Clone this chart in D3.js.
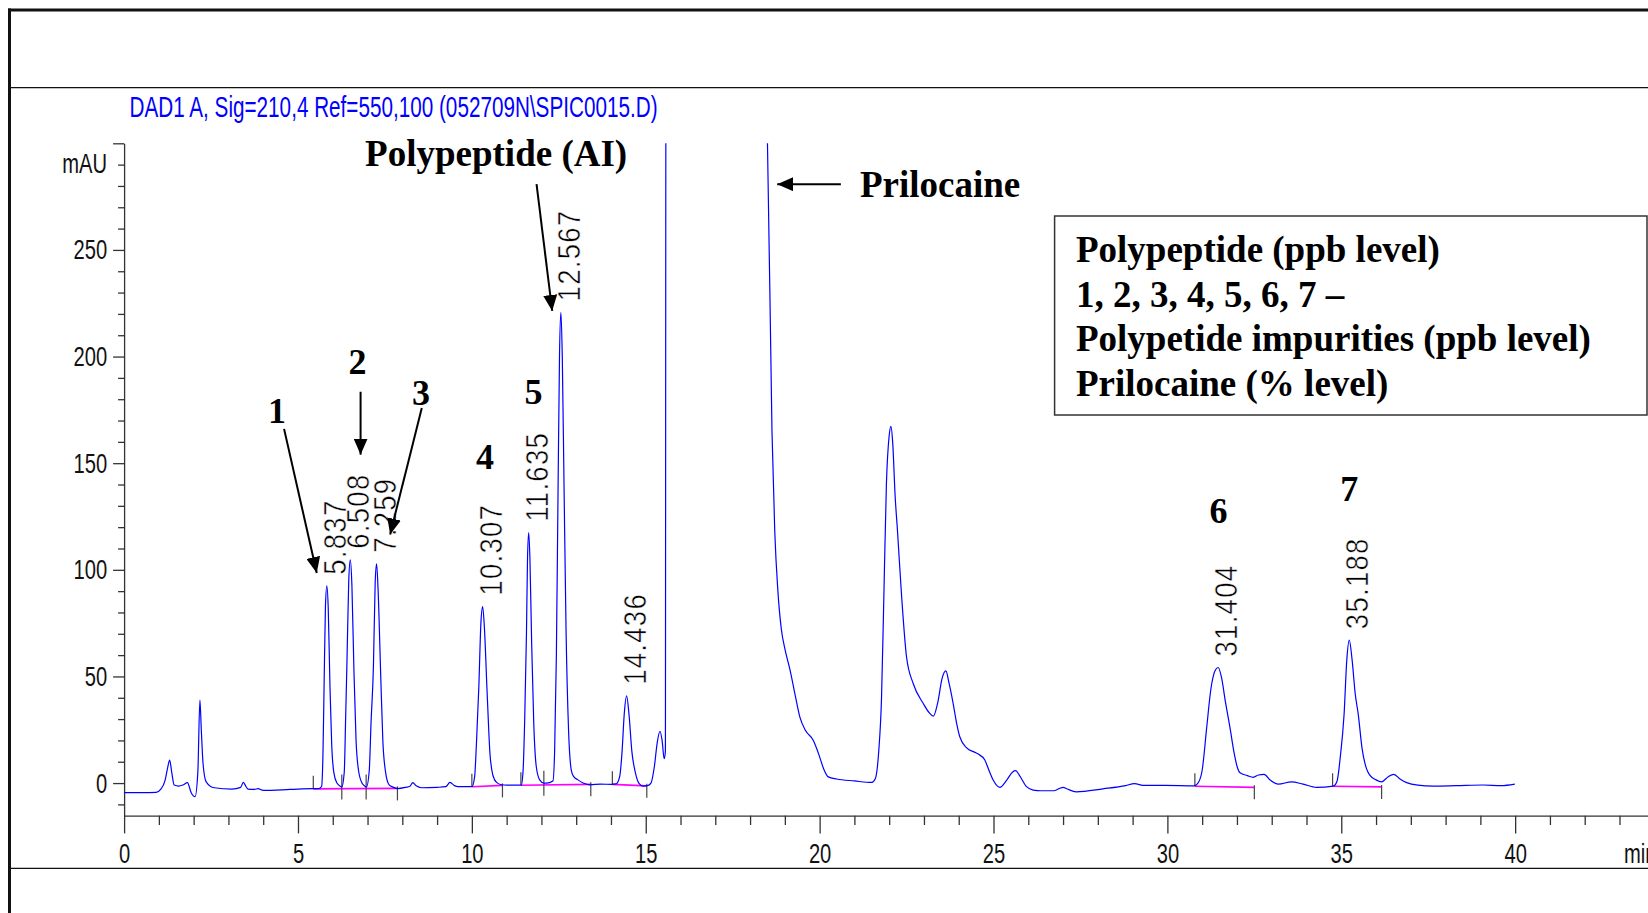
<!DOCTYPE html>
<html>
<head>
<meta charset="utf-8">
<script src="https://cdn.jsdelivr.net/npm/d3@7"></script>
<style>
  html, body { margin: 0; padding: 0; background: #fff; overflow: hidden; }
  svg { display: block; }
</style>
</head>
<body>
<div id="chart"><svg></svg></div>
<script>
const W = 1648;
const H = 913;

// chromatogram trace: [time (min), signal (mAU)]
const traceEarly = [
  [0, -4.5], [0.5, -4.5], [0.92, -4.4], [1.05, -3], [1.18, 1.4], [1.25, 7], [1.31, 10.8],
  [1.37, 5], [1.44, -0.9], [1.57, -1.4], [1.69, -0.9], [1.82, 0.2], [1.93, -4.5], [2.04, -6.4],
  [2.12, 5], [2.18, 38.9], [2.22, 25], [2.27, 9.2], [2.36, 0.6], [2.59, -2.2], [3.1, -2.8],
  [3.35, -2], [3.43, 0.3], [3.5, -1.5], [3.56, -2.8], [3.75, -3], [3.85, -2.6], [4.0, -3.4],
  [4.77, -3.0], [5.42, -2.6], [5.6, -2.6]
];
const tracePeptides = [
  [5.68, -1.5], [5.72, 15], [5.75, 45], [5.79, 83], [5.83, 92.5], [5.87, 82], [5.92, 45],
  [5.97, 18], [6.03, 5], [6.12, 0], [6.22, -1.5], [6.26, -1.8],
  [6.33, 5], [6.37, 30], [6.41, 58], [6.46, 95], [6.505, 104.7], [6.55, 93], [6.61, 52],
  [6.67, 20], [6.74, 6], [6.84, 0], [6.93, -1.5], [6.97, -1.8],
  [7.05, 6], [7.10, 28], [7.17, 55], [7.22, 94], [7.26, 102.8], [7.30, 92], [7.38, 50],
  [7.44, 20], [7.52, 5], [7.62, -0.8], [7.75, -2], [7.86, -2.6],
  [8.10, -2], [8.22, -1.5], [8.30, 0.2], [8.40, -1.3], [8.55, -2.2], [9.0, -2], [9.25, -1.7],
  [9.37, 0.3], [9.50, -1.2], [9.60, -1.7], [10.0, -1.7],
  [10.08, 3], [10.13, 18], [10.20, 45], [10.26, 75], [10.31, 82.7], [10.36, 73], [10.44, 42],
  [10.52, 14], [10.60, 4], [10.71, 0.3], [10.85, -0.8], [11.0, -1], [11.3, -1], [11.42, -1],
  [11.47, 5], [11.52, 30], [11.57, 70], [11.60, 105], [11.635, 117.4], [11.67, 105], [11.72, 65],
  [11.78, 28], [11.85, 8], [11.95, 1.5], [12.07, 0], [12.15, 0],
  [12.33, 1], [12.38, 15], [12.43, 60], [12.48, 140], [12.52, 200], [12.56, 220.7], [12.60, 200],
  [12.65, 140], [12.71, 70], [12.78, 25], [12.86, 6], [12.93, 3], [13.05, 1.5], [13.2, 0],
  [13.4, -0.8], [13.7, -0.5], [14.02, -0.6],
  [14.15, -0.4], [14.25, 3], [14.32, 15], [14.38, 32], [14.45, 40.9], [14.52, 32], [14.60, 15],
  [14.70, 5], [14.80, 0], [14.92, -1.4], [15.05, -1.2], [15.15, 0], [15.25, 8], [15.33, 19],
  [15.41, 24.3], [15.47, 20], [15.53, 11.4], [15.565, 15]
];
const tracePrilocaine = [
  [15.58, 320], [18.45, 320], [18.50, 300], [18.63, 165], [18.71, 118], [18.80, 90], [18.90, 72],
  [19.0, 63], [19.15, 53], [19.30, 41], [19.43, 31], [19.60, 24.5], [19.82, 20], [19.92, 16],
  [20.0, 12.3], [20.12, 6.5], [20.25, 2.9], [20.49, 1.9], [21.0, 1.0], [21.5, 0.3], [21.6, 2],
  [21.7, 15], [21.78, 40], [21.85, 90], [21.92, 140], [22.0, 163], [22.05, 167.3], [22.1, 160],
  [22.17, 135], [22.24, 118], [22.36, 87], [22.5, 59], [22.69, 46.7], [22.98, 37.3], [23.15, 33],
  [23.27, 31.4], [23.40, 38], [23.52, 49], [23.63, 52.6], [23.72, 47], [23.84, 37.3], [23.94, 28],
  [24.03, 21.7], [24.23, 16.5], [24.45, 14.5], [24.56, 13.6], [24.75, 10.8], [24.88, 5.5],
  [24.99, 1.4], [25.18, -2], [25.38, 1.4], [25.55, 5.2], [25.64, 5.8], [25.75, 3.5],
  [25.95, -1.7], [26.14, -3.3]
];
const traceLate = [
  [26.37, -3.6], [26.73, -3.6], [26.9, -2.5], [27.0, -2], [27.12, -2.8], [27.38, -4.1],
  [28.15, -2.7], [28.8, -1.2], [29.05, -0.3], [29.34, -1.1], [29.94, -1.1], [30.77, -1.3],
  [30.9, 0.5], [31.0, 6], [31.13, 26], [31.25, 44], [31.38, 53], [31.46, 54.2], [31.55, 50],
  [31.67, 38], [31.8, 26], [31.92, 14], [32.0, 8], [32.09, 4.8], [32.3, 3.5], [32.47, 2.7],
  [32.62, 3.8], [32.78, 4.1], [32.95, 1.5], [33.19, -0.5], [33.57, 0.6], [33.9, -0.5],
  [34.29, -2], [34.77, -1.4],
  [34.88, 1], [34.97, 12], [35.08, 32], [35.16, 58], [35.23, 67], [35.31, 58], [35.40, 42],
  [35.49, 32], [35.60, 16], [35.72, 7], [35.82, 3.7], [36.0, 1.5], [36.16, 0.6], [36.35, 3],
  [36.51, 4.1], [36.7, 1.8], [36.88, 0.2], [37.2, -1], [37.64, -1.4], [38.3, -1.2],
  [39.08, -0.9], [39.6, -1.2], [39.99, -0.5]
];

// retention time labels at the peak tops
const peakLabels = ["5.837", "6.508", "7.259", "10.307", "11.635", "12.567", "14.436", "31.404", "35.188"];
const peakMin = [5.83, 6.505, 7.26, 10.31, 11.635, 12.56, 14.45, 31.46, 35.23];
const peakMAU = [92.5, 104.7, 102.8, 82.7, 117.4, 220.7, 40.9, 54.2, 67];

// integration baselines
const intStart = [5.44, 10.0, 11.41, 14.04, 30.79, 34.75];
const intEnd = [7.86, 10.88, 13.42, 15.03, 32.50, 36.16];
const intStartMAU = [-2.7, -1.7, -1.0, -0.6, -1.5, -1.5];
const intEndMAU = [-2.5, -1.1, -0.6, -1.3, -2.0, -1.8];
const intSplit = [6.26, 6.96, 12.07];
const intSplitMAU = [-2.6, -2.6, -0.8];

// axes
const xMajor = d3.range(0, 41, 5);
const xMinor = d3.range(0, 44).filter(d => d % 5 !== 0);
const yMajor = d3.range(0, 301, 50);
const yMinor = d3.range(-10, 301, 10).filter(d => d % 50 !== 0);

// annotation numbers and captions
const numText = ["1", "2", "3", "4", "5", "6", "7"];
const numMin = [4.40, 6.71, 8.54, 10.38, 11.77, 31.47, 35.23];
const numMAU = [169, 192, 177.4, 147.3, 177.8, 121.9, 132.2];
const arrowFrom = [[4.60, 166.1], [6.80, 183.5], [8.56, 175.9], [11.86, 280.8], [20.61, 280.8]];
const arrowTo = [[5.54, 98.5], [6.80, 154], [7.65, 116.6], [12.31, 221.4], [18.78, 280.8]];
const legendLines = [
  "Polypeptide (ppb level)",
  "1, 2, 3, 4, 5, 6, 7 \u2013",
  "Polypetide impurities (ppb level)",
  "Prilocaine (% level)"
];

const svg = d3.select("#chart svg")
  .attr("width", W)
  .attr("height", H);

const x = d3.scaleLinear().domain([0, 43.82]).range([124.1, W]);
const y = d3.scaleLinear().domain([-15.3, 300]).range([815.7, 143.3]);

const narrow = 0.72;
const sans = "'Liberation Sans', Arial, sans-serif";
const serif = "'Liberation Serif', 'Times New Roman', serif";

// page frame
svg.append("line").attr("x1", 8).attr("x2", W).attr("y1", 10).attr("y2", 10)
  .attr("stroke", "#111").attr("stroke-width", 3);
svg.append("line").attr("x1", 9.5).attr("x2", 9.5).attr("y1", 8.5).attr("y2", H)
  .attr("stroke", "#111").attr("stroke-width", 3);
svg.append("line").attr("x1", 8).attr("x2", W).attr("y1", 87.7).attr("y2", 87.7)
  .attr("stroke", "#111").attr("stroke-width", 1.3);
svg.append("line").attr("x1", 8).attr("x2", W).attr("y1", 868.3).attr("y2", 868.3)
  .attr("stroke", "#111").attr("stroke-width", 1.3);

// signal title
svg.append("text")
  .attr("transform", "translate(129.5,116.7) scale(0.69,1)")
  .attr("font-family", sans)
  .attr("font-size", 30)
  .attr("fill", "#0000ff")
  .text("DAD1 A, Sig=210,4 Ref=550,100 (052709N\\SPIC0015.D)");

// y axis
svg.append("g")
  .attr("transform", `translate(${x(0)},0)`)
  .call(d3.axisLeft(y).tickValues(yMinor).tickSize(6).tickFormat("").tickSizeOuter(0))
  .call(g => g.select(".domain").remove());

const yAxis = svg.append("g")
  .attr("transform", `translate(${x(0)},0)`)
  .call(d3.axisLeft(y).tickValues(yMajor).tickSize(11).tickSizeOuter(0)
    .tickFormat(d => d === 300 ? "" : d));
yAxis.selectAll("text")
  .attr("x", -17 / narrow)
  .attr("transform", `scale(${narrow},1)`)
  .attr("font-size", 28);

svg.append("text")
  .attr("transform", `translate(107,173) scale(${narrow},1)`)
  .attr("text-anchor", "end")
  .attr("font-family", sans)
  .attr("font-size", 28)
  .attr("fill", "#111")
  .text("mAU");

// x axis
svg.append("g")
  .attr("transform", `translate(0,${y(-15.3)})`)
  .call(d3.axisBottom(x).tickValues(xMinor).tickSize(9.3).tickFormat("").tickSizeOuter(0))
  .call(g => g.select(".domain").remove());

const xAxis = svg.append("g")
  .attr("transform", `translate(0,${y(-15.3)})`)
  .call(d3.axisBottom(x).tickValues(xMajor).tickSize(17.7).tickSizeOuter(0));
xAxis.selectAll("text")
  .attr("y", 47.6)
  .attr("dy", 0)
  .attr("transform", `scale(${narrow},1)`)
  .attr("font-size", 28);

svg.append("text")
  .attr("transform", `translate(1624,863.3) scale(${narrow},1)`)
  .attr("font-family", sans)
  .attr("font-size", 28)
  .attr("fill", "#111")
  .text("min");

svg.selectAll(".tick line, .domain")
  .attr("stroke", "#333")
  .attr("stroke-width", 1.3);
svg.selectAll(".tick text")
  .attr("font-family", sans)
  .attr("fill", "#111");

// clip the trace to the plot window
svg.append("clipPath").attr("id", "plotClip")
  .append("rect")
  .attr("x", x(0)).attr("y", y(300))
  .attr("width", W - x(0)).attr("height", y(-15.3) - y(300));

// integration baselines and event marks
const base = svg.append("g");
intStart.forEach((t, i) => {
  base.append("line")
    .attr("x1", x(t)).attr("y1", y(intStartMAU[i]))
    .attr("x2", x(intEnd[i])).attr("y2", y(intEndMAU[i]))
    .attr("stroke", "#ff00ff").attr("stroke-width", 1.6);
  base.append("line")
    .attr("x1", x(t)).attr("x2", x(t))
    .attr("y1", y(intStartMAU[i]) - 13).attr("y2", y(intStartMAU[i]))
    .attr("stroke", "#444").attr("stroke-width", 1.2);
  base.append("line")
    .attr("x1", x(intEnd[i])).attr("x2", x(intEnd[i]))
    .attr("y1", y(intEndMAU[i]) - 2).attr("y2", y(intEndMAU[i]) + 12)
    .attr("stroke", "#444").attr("stroke-width", 1.2);
});
intSplit.forEach((t, i) => {
  base.append("line")
    .attr("x1", x(t)).attr("x2", x(t))
    .attr("y1", y(intSplitMAU[i]) - 14).attr("y2", y(intSplitMAU[i]) + 11)
    .attr("stroke", "#444").attr("stroke-width", 1.2);
});

// signal
const trace = traceEarly.concat(tracePeptides, tracePrilocaine, traceLate);
const line = d3.line()
  .x(d => x(d[0]))
  .y(d => y(d[1]))
  .curve(d3.curveMonotoneX);

svg.append("path")
  .datum(trace)
  .attr("clip-path", "url(#plotClip)")
  .attr("fill", "none")
  .attr("stroke", "#0000ff")
  .attr("stroke-width", 1.2)
  .attr("stroke-linejoin", "round")
  .attr("d", line);

// retention time labels, thin spaced digits like the data system prints them
svg.append("g")
  .selectAll("text")
  .data(peakLabels)
  .enter()
  .append("text")
  .attr("transform", (d, i) =>
    `translate(${x(peakMin[i]) + 19},${y(peakMAU[i]) - 11}) rotate(-90) scale(0.86,1)`)
  .attr("font-family", sans)
  .attr("font-size", 32)
  .attr("letter-spacing", 1.5)
  .attr("fill", "#000")
  .attr("stroke", "#fff")
  .attr("stroke-width", 0.55)
  .text(d => d);

// arrows
svg.append("defs").append("marker")
  .attr("id", "head")
  .attr("markerUnits", "userSpaceOnUse")
  .attr("markerWidth", 17).attr("markerHeight", 14)
  .attr("refX", 16).attr("refY", 7)
  .attr("orient", "auto")
  .append("path")
  .attr("d", "M0,0L16,7L0,14Z")
  .attr("fill", "#000");

svg.append("g")
  .selectAll("line")
  .data(arrowFrom)
  .enter()
  .append("line")
  .attr("x1", d => x(d[0])).attr("y1", d => y(d[1]))
  .attr("x2", (d, i) => x(arrowTo[i][0])).attr("y2", (d, i) => y(arrowTo[i][1]))
  .attr("stroke", "#000")
  .attr("stroke-width", 2)
  .attr("marker-end", "url(#head)");

// peak numbers
svg.append("g")
  .selectAll("text")
  .data(numText)
  .enter()
  .append("text")
  .attr("x", (d, i) => x(numMin[i]))
  .attr("y", (d, i) => y(numMAU[i]))
  .attr("text-anchor", "middle")
  .attr("font-family", serif)
  .attr("font-weight", "bold")
  .attr("font-size", 36)
  .attr("fill", "#000")
  .text(d => d);

svg.append("text")
  .attr("x", x(6.93)).attr("y", y(289.3))
  .attr("font-family", serif).attr("font-weight", "bold").attr("font-size", 37)
  .text("Polypeptide (AI)");

svg.append("text")
  .attr("x", x(21.16)).attr("y", y(274.6))
  .attr("font-family", serif).attr("font-weight", "bold").attr("font-size", 37)
  .text("Prilocaine");

// legend box
const legend = svg.append("g").attr("transform", "translate(1054.6,216)");
legend.append("rect")
  .attr("width", 592.4).attr("height", 199)
  .attr("fill", "#fff").attr("stroke", "#333").attr("stroke-width", 1.5);
legend.selectAll("text")
  .data(legendLines)
  .enter()
  .append("text")
  .attr("x", 21.4)
  .attr("y", (d, i) => 45.7 + i * 44.8)
  .attr("font-family", serif)
  .attr("font-weight", "bold")
  .attr("font-size", 37)
  .attr("fill", "#000")
  .text(d => d);
</script>
</body>
</html>
